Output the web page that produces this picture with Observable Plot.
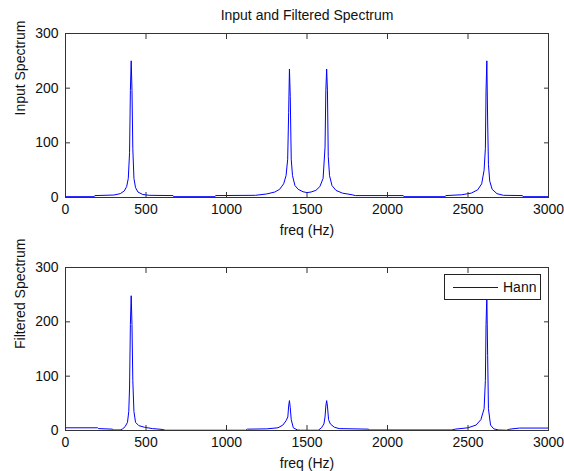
<!DOCTYPE html>
<html>
<head>
<meta charset="utf-8">
<script src="https://cdn.jsdelivr.net/npm/d3@7"></script>
<script src="https://cdn.jsdelivr.net/npm/@observablehq/plot@0.6"></script>
<style>
  body { margin: 0; background: #fff; }
  #wrap { position: relative; width: 564px; height: 471px; font-family: "Liberation Sans", Arial, sans-serif; }
  #wrap > svg { display: block; }
  .legend { position: absolute; left: 444px; top: 274px; width: 95px; height: 24px; border: 1px solid #222; background: #fff; }
  .legend .swatch { position: absolute; left: 8px; top: 12px; width: 45px; height: 0; border-top: 1px solid #0000ff; }
  .legend .lbl { position: absolute; left: 58px; top: 4px; font-size: 14px; line-height: 16px; color: #111; }
</style>
</head>
<body>
<div id="wrap"></div>
<script>
// ---- data ----
const chartTitle = "Input and Filtered Spectrum";
const xLabel = "freq (Hz)";
const topYLabel = "Input Spectrum";
const bottomYLabel = "Filtered Spectrum";
const legendLabel = "Hann";
const xTicks = [0, 500, 1000, 1500, 2000, 2500, 3000];
const yTicks = [0, 100, 200, 300];

const inputFreq = [0, 178, 182, 300, 340, 365, 380, 390, 398, 403, 408, 413, 418, 425, 435, 450, 480, 520, 668, 672, 928, 932, 1180, 1250, 1300, 1330, 1355, 1370, 1380, 1386, 1391, 1396, 1402, 1410, 1425, 1445, 1475, 1500, 1525, 1555, 1580, 1600, 1612, 1617, 1622, 1627, 1632, 1640, 1655, 1680, 1720, 1780, 1800, 2098, 2102, 2358, 2362, 2460, 2520, 2560, 2585, 2600, 2608, 2612, 2617, 2622, 2627, 2635, 2650, 2680, 2720, 2838, 2842, 3000];
const inputAmp = [1.5, 1.5, 3.5, 4.5, 7, 12, 20, 35, 82, 196, 250, 196, 90, 35, 18, 10, 5.5, 4, 3.5, 1.5, 1.5, 3.5, 4, 6.5, 10, 15, 25, 40, 70, 155, 235, 185, 70, 40, 22, 15, 10.5, 9, 10, 13, 20, 35, 92, 195, 235, 195, 75, 40, 22, 13, 8, 5, 3.5, 3.5, 1.5, 1.5, 3.5, 5, 8, 14, 25, 50, 90, 195, 250, 140, 60, 30, 15, 7, 4, 3.5, 1.5, 1.5];

const hannFreq = [0, 200, 205, 290, 300, 340, 355, 370, 385, 393, 398, 403, 408, 413, 418, 425, 435, 455, 490, 540, 600, 620, 1120, 1130, 1250, 1320, 1350, 1370, 1381, 1386, 1391, 1396, 1402, 1415, 1440, 1460, 1570, 1590, 1605, 1612, 1617, 1622, 1627, 1634, 1645, 1670, 1700, 1880, 1890, 2400, 2420, 2500, 2550, 2580, 2600, 2608, 2612, 2617, 2622, 2627, 2640, 2660, 2690, 2740, 2760, 2820, 3000];
const hannAmp = [5, 5, 3.5, 2.5, 1, 1, 3, 7, 15, 35, 80, 195, 248, 195, 92, 35, 15, 9, 6, 3.5, 2, 0.5, 0.5, 2.5, 3, 5, 10, 18, 25, 45, 55, 42, 20, 5, 1, 0.5, 0.5, 5, 12, 25, 45, 55, 45, 20, 12, 6, 3.5, 2.5, 1, 1, 2.5, 5, 10, 20, 40, 92, 195, 248, 138, 40, 10, 3, 1, 0.5, 2.5, 4.5, 4.5];

const FONT = '"Liberation Sans", Arial, sans-serif';
const INK = "#111";
const fmt = d => String(d);

function panel({freq, amp, height, marginTop, marginBottom, ylabel, title}) {
  const data = freq.map((f, i) => ({f, a: amp[i]}));
  const marks = [
    Plot.line(data, {x: "f", y: "a", stroke: "#0000ff", strokeWidth: 1}),
    Plot.frame({stroke: "#333", strokeWidth: 1}),
    Plot.axisX(xTicks, {anchor: "bottom", tickSize: -5, text: null, label: null, stroke: "#333"}),
    Plot.axisX(xTicks, {anchor: "top", tickSize: -5, text: null, label: null, stroke: "#333"}),
    Plot.axisY(yTicks, {anchor: "left", tickSize: -5, text: null, label: null, stroke: "#333"}),
    Plot.axisY(yTicks, {anchor: "right", tickSize: -5, text: null, label: null, stroke: "#333"}),
    Plot.axisX(xTicks, {anchor: "bottom", tickSize: 0, tickPadding: 7, label: null, tickFormat: fmt, fontSize: 14, fill: INK}),
    Plot.axisY(yTicks, {anchor: "left", tickSize: 0, tickPadding: 7, label: null, tickFormat: fmt, fontSize: 14, fill: INK}),
    Plot.text([xLabel], {frameAnchor: "bottom", dy: 33, fontSize: 14, fill: INK, lineAnchor: "middle"}),
    Plot.text([ylabel], {frameAnchor: "left", dx: -45, rotate: -90, fontSize: 14, fill: INK, lineAnchor: "middle"})
  ];
  if (title) marks.push(Plot.text([title], {frameAnchor: "top", dy: -18, fontSize: 14, fill: INK, lineAnchor: "middle"}));
  return Plot.plot({
    width: 564,
    height,
    marginLeft: 65,
    marginRight: 16,
    marginTop,
    marginBottom,
    style: {fontFamily: FONT, fontSize: "14px", background: "#fff", overflow: "visible"},
    x: {domain: [0, 3000]},
    y: {domain: [0, 300]},
    marks
  });
}

const wrap = document.getElementById("wrap");
wrap.appendChild(panel({freq: inputFreq, amp: inputAmp, height: 240, marginTop: 33, marginBottom: 43, ylabel: topYLabel, title: chartTitle}));
wrap.appendChild(panel({freq: hannFreq, amp: hannAmp, height: 231, marginTop: 27, marginBottom: 41, ylabel: bottomYLabel}));

// legend box
const leg = document.createElement("div");
leg.className = "legend";
const sw = document.createElement("div");
sw.className = "swatch";
const lbl = document.createElement("div");
lbl.className = "lbl";
lbl.textContent = legendLabel;
leg.appendChild(sw);
leg.appendChild(lbl);
wrap.appendChild(leg);
</script>
</body>
</html>
